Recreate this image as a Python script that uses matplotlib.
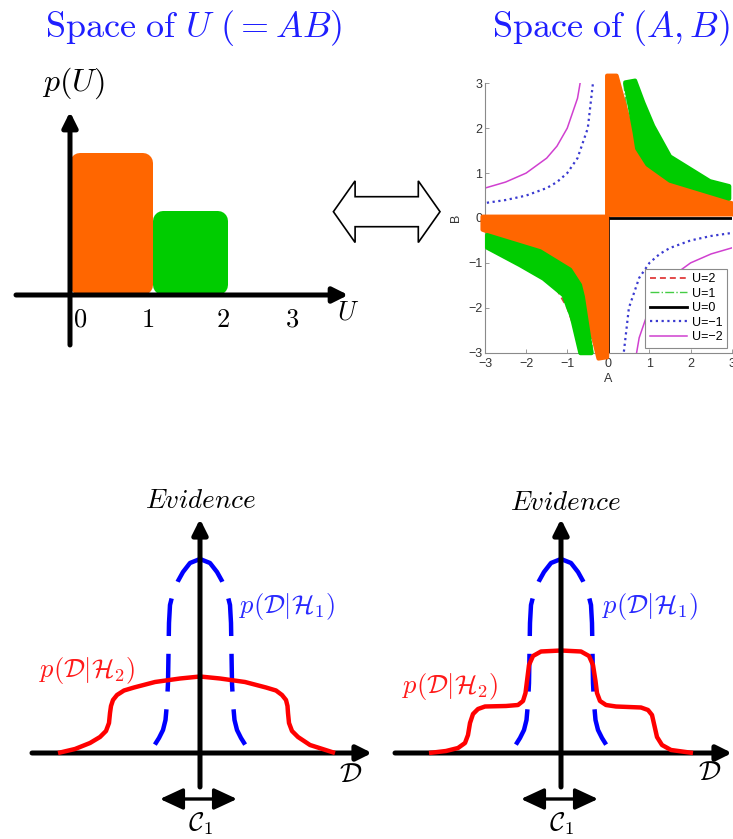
import numpy as np
import matplotlib
matplotlib.use("Agg")
import matplotlib.pyplot as plt
from matplotlib.patches import Polygon

plt.rcParams["mathtext.fontset"] = "cm"
plt.rcParams["font.family"] = ["DejaVu Serif"]

# p(U) bars (top left)
u_edges = [0.0, 1.1, 2.1]
u_heights = [1.0, 0.59]
u_colors = ["#ff6600", "#00cc00"]
u_tick_pos = [0.13, 1.04, 2.04, 2.96]
u_tick_labels = ["0", "1", "2", "3"]

# level sets U = A*B (top right)
a_samples = np.array([0.25, 0.5, 0.75, 1.0, 1.25, 1.5, 2.0, 2.5, 3.0])
u_levels = [2, 1, 0, -1, -2]
level_labels = ["U=2", "U=1", "U=0", "U=\u22121", "U=\u22122"]
level_colors = ["#e03c3c", "#44cc44", "black", "#3a3ad0", "#d040d0"]
level_styles = [(0, (3.3, 2.2)), "-.", "-", (0, (1, 1.6)), "-"]
level_widths = [1.3, 1.0, 2.0, 1.6, 1.1]
ab_ticks = [-3, -2, -1, 0, 1, 2, 3]

# regions painted over the (A, B) plane
orange_q1 = [(-0.03, 0.07), (-0.03, 3.17), (0.2, 3.17), (0.69, 1.53), (0.93, 1.16),
             (1.5, 0.79), (3.06, 0.31), (3.06, 0.08)]
green_q1 = [(0.41, 3.02), (0.64, 1.9), (0.70, 1.55), (0.95, 1.19), (1.5, 0.83),
            (2.94, 0.43), (2.94, 0.71), (2.47, 0.82), (1.5, 1.37), (1.09, 2.05),
            (0.85, 2.57), (0.65, 3.06)]
orange_q3 = [(-3.06, 0.03), (-0.03, 0.03), (-0.03, -3.1), (-0.24, -3.13),
             (-0.69, -1.46), (-0.93, -1.12), (-1.66, -0.71), (-3.06, -0.26)]
green_q3 = [(-2.95, -0.38), (-1.66, -0.74), (-0.93, -1.15), (-0.69, -1.49),
            (-0.62, -1.75), (-0.41, -3.01), (-0.68, -3.01), (-0.89, -2.2),
            (-1.09, -1.72), (-1.58, -1.35), (-2.15, -1.05), (-2.95, -0.66)]

# evidence curves (bottom), x offset from centre and height
blue_off = [0.0, 0.10, 0.17, 0.22, 0.27, 0.30, 0.31, 0.315, 0.32, 0.33, 0.345,
            0.37, 0.41, 0.46, 0.51]
blue_h = [1.94, 1.90, 1.81, 1.72, 1.60, 1.48, 1.30, 1.00, 0.70, 0.50, 0.33,
          0.23, 0.15, 0.07, 0.0]

red1_x = [-1.42, -1.25, -1.10, -1.00, -0.94, -0.91, -0.90, -0.89, -0.87, -0.83,
          -0.76, -0.66, -0.45, -0.20, 0.0, 0.20, 0.45, 0.66, 0.76, 0.82, 0.86,
          0.875, 0.88, 0.89, 0.92, 0.98, 1.10, 1.35]
red1_h = [0.0, 0.04, 0.10, 0.16, 0.22, 0.30, 0.40, 0.47, 0.53, 0.58, 0.625,
          0.655, 0.71, 0.745, 0.765, 0.745, 0.71, 0.655, 0.625, 0.58, 0.53,
          0.47, 0.40, 0.30, 0.22, 0.16, 0.08, 0.0]

red2_x = [-1.32, -1.15, -1.03, -0.96, -0.93, -0.91, -0.88, -0.83, -0.76, -0.55,
          -0.43, -0.38, -0.355, -0.34, -0.32, -0.28, -0.20, 0.0, 0.20, 0.28,
          0.32, 0.345, 0.36, 0.39, 0.45, 0.55, 0.80, 0.87, 0.91, 0.935, 0.96,
          1.01, 1.10, 1.32]
red2_h = [0.0, 0.02, 0.05, 0.10, 0.18, 0.30, 0.39, 0.44, 0.465, 0.47, 0.48,
          0.52, 0.60, 0.72, 0.88, 0.97, 1.015, 1.025, 1.015, 0.97, 0.88, 0.72,
          0.60, 0.52, 0.48, 0.465, 0.455, 0.43, 0.38, 0.27, 0.16, 0.08, 0.03, 0.0]

W, H = 733, 839
fig = plt.figure(figsize=(W / 100, H / 100), dpi=100)


def px_axes(x0, y0, x1, y1):
    return fig.add_axes([x0 / W, 1 - y1 / H, (x1 - x0) / W, (y1 - y0) / H])


def axis_arrow(ax, start, end, z=4):
    ax.annotate("", xy=end, xytext=start, annotation_clip=False, zorder=z,
                arrowprops=dict(arrowstyle="-|>,head_length=0.9,head_width=0.45",
                                lw=3.6, color="black", mutation_scale=10,
                                shrinkA=0, shrinkB=0))


# decorations in pixel units
deco = px_axes(0, 0, W, H)
deco.set_xlim(0, W)
deco.set_ylim(H, 0)
deco.axis("off")
deco.text(194, 28, r"$\mathrm{Space\ of}\ U\ (=AB)$", color="#1f1fff",
          fontsize=26, ha="center", va="center")
deco.text(611, 28, r"$\mathrm{Space\ of}\ (A,B)$", color="#1f1fff",
          fontsize=26, ha="center", va="center")

cx, cy, half, hl, hw, sw = 386.7, 211.7, 53.3, 21.7, 30.8, 15.0
darrow = [(cx - half, cy), (cx - half + hl, cy - hw), (cx - half + hl, cy - sw),
          (cx + half - hl, cy - sw), (cx + half - hl, cy - hw), (cx + half, cy),
          (cx + half - hl, cy + hw), (cx + half - hl, cy + sw),
          (cx - half + hl, cy + sw), (cx - half + hl, cy + hw)]
deco.add_patch(Polygon(darrow, closed=True, fc="white", ec="black", lw=1.2))

# ---- top left: p(U) ----
ax1 = px_axes(10, 100, 360, 350)
ax1.set_xlim((10 - 70) / 75, (360 - 70) / 75)
ax1.set_ylim((295 - 350) / 142, (295 - 100) / 142)
ax1.axis("off")

r_px = 10
ix, iy = r_px / 75, r_px / 142
for left, right, h, c in zip(u_edges[:-1], u_edges[1:], u_heights, u_colors):
    ax1.bar(left + ix, h - 2 * iy, width=right - left - 2 * ix, bottom=iy,
            align="edge", color=c, edgecolor=c, lw=2 * r_px * 0.72,
            joinstyle="round", zorder=2)

axis_arrow(ax1, (-0.72, 0), (3.71, 0))
axis_arrow(ax1, (0, -0.352), (0, 1.29))
for p, t in zip(u_tick_pos, u_tick_labels):
    ax1.text(p, -0.17, "$" + t + "$", fontsize=19, ha="center", va="center")
ax1.text(0.04, 1.49, r"$p(U)$", fontsize=23, ha="center", va="center")
ax1.text(3.71, -0.12, r"$U$", fontsize=19, ha="center", va="center")

# ---- top right: (A, B) plane ----
ax2 = px_axes(485, 83.3, 731.7, 352.7)
for u, lab, c, ls, lw in zip(u_levels, level_labels, level_colors,
                             level_styles, level_widths):
    if u == 0:
        A = [-3, 3, np.nan, 0, 0]
        B = [0, 0, np.nan, -3, 3]
    else:
        b = u / a_samples
        A = np.r_[a_samples, np.nan, -a_samples]
        B = np.r_[b, np.nan, -b]
    ax2.plot(A, B, color=c, ls=ls, lw=lw, label=lab, zorder=2)

for verts, c in [(orange_q1, u_colors[0]), (green_q1, u_colors[1]),
                 (orange_q3, u_colors[0]), (green_q3, u_colors[1])]:
    ax2.add_patch(Polygon(verts, closed=True, fc=c, ec=c, lw=3,
                          joinstyle="round", clip_on=False, zorder=3))

ax2.set_xlim(-3, 3)
ax2.set_ylim(-3, 3)
ax2.set_xticks(ab_ticks)
ax2.set_yticks(ab_ticks)
ax2.spines["top"].set_visible(False)
ax2.spines["right"].set_visible(False)
for s in ("left", "bottom"):
    ax2.spines[s].set_color("#8a8a8a")
    ax2.spines[s].set_linewidth(0.8)
ax2.tick_params(direction="in", length=3, width=0.6, color="#8a8a8a",
                labelsize=9, labelcolor="#333333", pad=2)
ax2.tick_params(axis="x", pad=4)
for t in ax2.get_xticklabels() + ax2.get_yticklabels():
    t.set_fontfamily("Liberation Sans")
ax2.set_xlabel("A", fontsize=9, family="Liberation Sans", color="#333333",
               labelpad=2)
ax2.set_ylabel("B", fontsize=9, family="Liberation Sans", color="#333333",
               labelpad=4)
leg = ax2.legend(loc="lower right", prop={"family": "Liberation Sans", "size": 9},
                 handlelength=3.0, handletextpad=0.35, labelspacing=0.2,
                 borderpad=0.35, borderaxespad=0.4, fancybox=False,
                 edgecolor="#8a8a8a", framealpha=1)
leg.get_frame().set_linewidth(0.8)
leg.set_zorder(6)


# ---- bottom: evidence panels ----
def evidence_panel(ax, red_x, red_h, x_lo, x_hi, pos):
    ax.set_ylim((753 - 839) / 100, (753 - 480) / 100)
    ax.axis("off")
    axis_arrow(ax, (x_lo, 0), (x_hi, 0), z=1)
    axis_arrow(ax, (0, -0.34), (0, 2.34), z=5)
    off = np.array(blue_off)
    for side in (1, -1):
        ax.plot(side * off, blue_h, color="#0000ff", lw=3.2,
                ls=(1.0, (8.5, 4.0)), zorder=2)
    ax.plot(red_x, red_h, color="#ff0000", lw=3.2, zorder=3,
            solid_capstyle="butt")
    ax.annotate("", xy=(-0.40, -0.46), xytext=(0.37, -0.46),
                annotation_clip=False,
                arrowprops=dict(arrowstyle="<|-|>,head_length=1.4,head_width=0.65",
                                lw=2.4, color="black", mutation_scale=10,
                                shrinkA=0, shrinkB=0))
    ax.text(*pos["ev"], r"$\mathit{Evidence}$", fontsize=19.5, ha="center",
            va="center")
    ax.text(*pos["h1"], r"$p(\mathcal{D}|\mathcal{H}_1)$", fontsize=19,
            color="#2a2aff", ha="center", va="center")
    ax.text(*pos["h2"], r"$p(\mathcal{D}|\mathcal{H}_2)$", fontsize=19,
            color="#ff1a1a", ha="center", va="center")
    ax.text(*pos["d"], r"$\mathcal{D}$", fontsize=20, ha="center", va="center")
    ax.text(*pos["c"], r"$\mathcal{C}_1$", fontsize=19, ha="center", va="center")


ax3 = px_axes(20, 480, 375, 839)
ax3.set_xlim((20 - 200) / 100, (375 - 200) / 100)
evidence_panel(ax3, red1_x, red1_h, -1.68, 1.72,
               {"ev": (0, 2.52), "h1": (0.87, 1.46), "h2": (-1.13, 0.82),
                "d": (1.51, -0.21), "c": (0, -0.71)})

ax4 = px_axes(375, 480, 733, 839)
ax4.set_xlim((375 - 561) / 100, (733 - 561) / 100)
evidence_panel(ax4, red2_x, red2_h, -1.66, 1.71,
               {"ev": (0.04, 2.51), "h1": (0.89, 1.46), "h2": (-1.11, 0.67),
                "d": (1.49, -0.20), "c": (0, -0.71)})

fig.savefig("out.png", dpi=100)
